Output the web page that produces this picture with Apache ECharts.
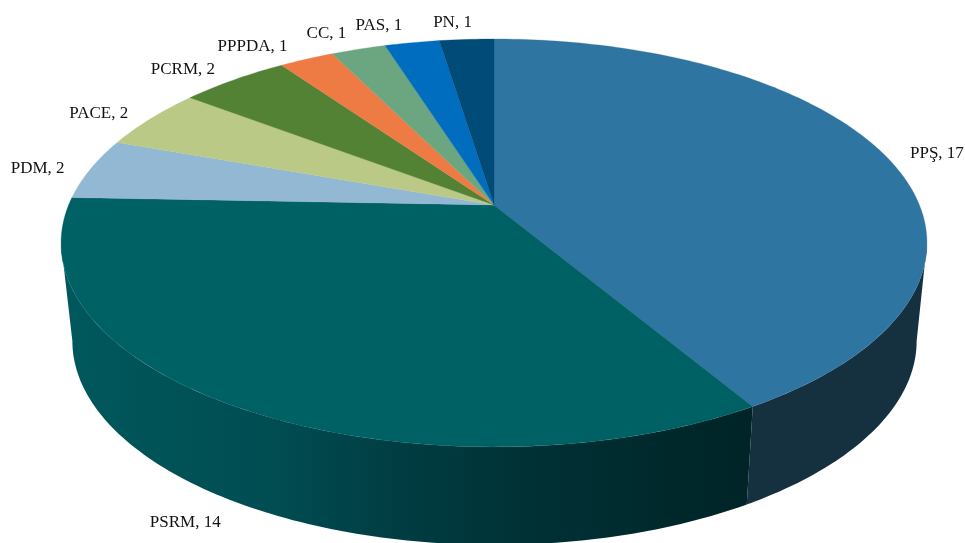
<!DOCTYPE html>
<html><head><meta charset="utf-8">
<style>html,body{margin:0;padding:0;background:#fff}#c{width:965px;height:543px}</style>
<script src="https://cdn.jsdelivr.net/npm/echarts@6/dist/echarts.min.js"></script>
</head><body><div id="c"></div>
<script>
const categories = ['PPŞ','PSRM','PDM','PACE','PCRM','PPPDA','CC','PAS','PN'];
const values = [17,14,2,2,2,1,1,1,1];
const topColors = ['#2E75A1','#006165','#92B8D4','#BAC986','#548235','#ED7B43','#6BA680','#006DBE','#004B78'];
const labelOffsets = [[52,-2],[-50,116],[-53,0],[-52,-5],[-51,-10],[-54,-13],[-32,-16],[-33,-17],[-14,-17]];

const CX=494, CY=205, K=0.186, A=196.9, B=425.4, DEPTH=98, SHRINK=0.975;
const total = values.reduce((a,b)=>a+b,0);
const WIDE = Math.acos(-K);               // angle of the rim's widest point
function proj(t){ const X=Math.sin(t),Y=Math.cos(t),d=1+K*Y; return [CX+B*X/d, CY-A*Y/d]; }
function low(t){ const p=proj(t); return [CX+0.5+(p[0]-CX)*SHRINK, p[1]+DEPTH]; }
function angles(i){ let s=0; for(let j=0;j<i;j++) s+=values[j]; return [s/total*2*Math.PI,(s+values[i])/total*2*Math.PI]; }
function arc(a0,a1,f){ const n=Math.max(2,Math.ceil((a1-a0)/(Math.PI/180))), pts=[]; for(let k=0;k<=n;k++) pts.push(f(a0+(a1-a0)*k/n)); return pts; }

const sideFills = [
  '#15303F',
  {type:'linear',x:70,y:0,x2:745,y2:0,global:true,colorStops:[
    {offset:0,color:'#00585C'},{offset:0.3,color:'#004D52'},{offset:0.5,color:'#003C41'},
    {offset:0.7,color:'#003034'},{offset:1,color:'#002427'}]}
];
const option = {
  animation:false,
  backgroundColor:'#fff',
  series:[
    {type:'custom',coordinateSystem:'none',z:1,silent:true,data:values.map(v=>[v]),
     renderItem(p,api){ const i=p.dataIndex; if(i>=sideFills.length) return {type:'group',children:[]};
       let [a0,a1]=angles(i);
       a0=Math.max(a0,WIDE); a1=Math.min(a1,2*Math.PI-WIDE);
       const t=arc(a0,a1,proj), b=arc(a0,a1,low).reverse();
       return {type:'polygon',shape:{points:t.concat(b)},style:{fill:sideFills[i]}}; }},
    {type:'custom',coordinateSystem:'none',z:2,silent:true,data:values.map(v=>[v]),
     renderItem(p,api){ const i=p.dataIndex; const [a0,a1]=angles(i);
       const pts=[[CX,CY]].concat(arc(a0,a1,proj));
       return {type:'polygon',shape:{points:pts},style:{fill:topColors[i],stroke:topColors[i],lineWidth:0.3}}; }},
    {type:'custom',coordinateSystem:'none',z:3,silent:true,data:values.map(v=>[v]),
     renderItem(p,api){ const i=p.dataIndex; const [a0,a1]=angles(i); const r=proj((a0+a1)/2);
       return {type:'text',x:r[0]+labelOffsets[i][0],y:r[1]+labelOffsets[i][1],
         style:{text:categories[i]+', '+api.value(0),fill:'#111',font:'17px "Liberation Serif"',align:'center',verticalAlign:'middle'}}; }}
  ]
};
echarts.init(document.getElementById('c'),null,{renderer:'canvas'}).setOption(option);
</script></body></html>
